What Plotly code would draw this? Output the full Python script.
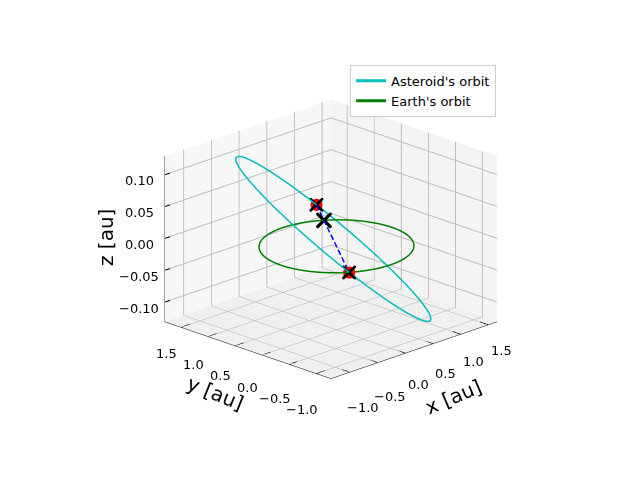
import numpy as np
import plotly.graph_objects as go

# ---- data ----
# asteroid orbital elements: a [au], e, i [deg], node [deg], arg. perihelion [deg]
ast_elements = [1.30, 0.231, 5.8, 55.0, 178.6]
earth_radius = [1.0]
x_ticks = [-1.0, -0.5, 0.0, 0.5, 1.0, 1.5]
y_ticks = [-1.0, -0.5, 0.0, 0.5, 1.0, 1.5]
z_ticks = [-0.10, -0.05, 0.0, 0.05, 0.10]
x_range = [-1.34, 1.66]
y_range = [-1.27, 1.80]
z_range = [-0.131, 0.129]


def fmt(v, nd):
    s = f"{v:.{nd}f}"
    return s.replace("-", "\u2212")


a, e, inc, node, peri = ast_elements
inc, node, peri = np.radians([inc, node, peri])
p = a * (1 - e ** 2)


def orbit_xyz(nu):
    r = p / (1 + e * np.cos(nu))
    u = nu + peri
    x = r * (np.cos(node) * np.cos(u) - np.sin(node) * np.sin(u) * np.cos(inc))
    y = r * (np.sin(node) * np.cos(u) + np.cos(node) * np.sin(u) * np.cos(inc))
    z = r * np.sin(u) * np.sin(inc)
    return x, y, z


nu = np.linspace(0, 2 * np.pi, 400)
ax_, ay_, az_ = orbit_xyz(nu)

th = np.linspace(0, 2 * np.pi, 400)
R = earth_radius[0]
ex, ey, ez = R * np.cos(th), R * np.sin(th), np.zeros_like(th)

# nodes of the asteroid orbit
nodes_nu = np.array([-peri, np.pi - peri])
nx, ny, nz = orbit_xyz(nodes_nu)
# earth on the line of nodes (ascending side)
mx, my, mz = [R * np.cos(node)], [R * np.sin(node)], [0.0]

# dashed segment pattern along the line of nodes (blue dashed line)
n_dash, dash_frac = 9, 0.68
dx, dy, dz = [], [], []
for k in range(n_dash):
    t0 = k / n_dash
    t1 = t0 + dash_frac / n_dash
    for t in (t0, t1):
        dx.append(nx[0] + t * (nx[1] - nx[0]))
        dy.append(ny[0] + t * (ny[1] - ny[0]))
        dz.append(nz[0] + t * (nz[1] - nz[0]))
    dx.append(None); dy.append(None); dz.append(None)

xspan = x_range[1] - x_range[0]
yspan = y_range[1] - y_range[0]
zspan = z_range[1] - z_range[0]

# short tick marks on the box edges (inside the box, so they are not clipped)
tl_xy = 0.05 * xspan
tkx, tky, tkz = [], [], []
for v in x_ticks:
    tkx += [v, v, None]; tky += [y_range[0], y_range[0] + tl_xy, None]
    tkz += [z_range[0], z_range[0], None]
for v in y_ticks:
    tkx += [x_range[0], x_range[0] + tl_xy, None]; tky += [v, v, None]
    tkz += [z_range[0], z_range[0], None]
for v in z_ticks:
    tkx += [x_range[0] + 1e-3 * xspan, x_range[0] + tl_xy * 0.6, None]
    tky += [y_range[1] - 1e-3 * yspan, y_range[1] - 1e-3 * yspan, None]
    tkz += [v, v, None]

fig = go.Figure()
fig.add_trace(go.Scatter3d(x=ax_, y=ay_, z=az_, mode="lines",
                           line=dict(color="#00bfbf", width=3), name="Asteroid's orbit"))
fig.add_trace(go.Scatter3d(x=ex, y=ey, z=ez, mode="lines",
                           line=dict(color="#008000", width=3), name="Earth's orbit"))
fig.add_trace(go.Scatter3d(x=dx, y=dy, z=dz, mode="lines", connectgaps=False,
                           line=dict(color="#0000ff", width=3), showlegend=False))
fig.add_trace(go.Scatter3d(x=nx, y=ny, z=nz, mode="markers",
                           marker=dict(color="#ff0000", size=7, symbol="circle"), showlegend=False))
fig.add_trace(go.Scatter3d(x=nx, y=ny, z=nz, mode="markers",
                           marker=dict(color="black", size=3.2, symbol="x"), showlegend=False))
fig.add_trace(go.Scatter3d(x=mx, y=my, z=mz, mode="markers",
                           marker=dict(color="black", size=3.6, symbol="x"), showlegend=False))
fig.add_trace(go.Scatter3d(x=tkx, y=tky, z=tkz, mode="lines", connectgaps=False,
                           line=dict(color="black", width=2), showlegend=False,
                           hoverinfo="skip"))

# tick labels as scene annotations (pixel offsets like the reference)
tick_font = dict(size=13, color="black", family="DejaVu Sans")
scene_ann = []
for v in x_ticks:
    t = (x_range[1] - v) / xspan
    scene_ann.append(dict(x=v, y=y_range[0] + 1e-3 * yspan, z=z_range[0] + 1e-3 * zspan,
                          text=fmt(v, 1), showarrow=False,
                          xshift=13, yshift=-25 - 12 * t, font=tick_font,
                          xanchor="center", yanchor="middle"))
for v in y_ticks:
    t = (y_range[1] - v) / yspan
    scene_ann.append(dict(x=x_range[0] + 1e-3 * xspan, y=v, z=z_range[0] + 1e-3 * zspan,
                          text=fmt(v, 1), showarrow=False,
                          xshift=-15, yshift=-25 - 12 * t, font=tick_font,
                          xanchor="center", yanchor="middle"))
for v in z_ticks:
    scene_ann.append(dict(x=x_range[0] + 1e-3 * xspan, y=y_range[1] - 1e-3 * yspan, z=v,
                          text=fmt(v, 2), showarrow=False,
                          xshift=-26, yshift=-6, font=tick_font,
                          xanchor="center", yanchor="middle"))

axis_common = dict(showspikes=False, gridcolor="#bdbdbd", showline=True, linecolor="black",
                   ticks="", showticklabels=False, zeroline=False,
                   showbackground=True, title=dict(text=""))

elev, azim, dist = np.radians(20.0), np.radians(-135.0), 2.2
eye = dict(x=dist * np.cos(elev) * np.cos(azim), y=dist * np.cos(elev) * np.sin(azim),
           z=dist * np.sin(elev))

title_font = dict(size=20, color="black", family="DejaVu Sans")
fig.update_layout(
    width=640, height=480, margin=dict(l=0, r=0, t=0, b=0),
    paper_bgcolor="white",
    font=dict(family="DejaVu Sans", color="black"),
    legend=dict(x=0.547, y=0.865, xanchor="left", yanchor="top",
                bordercolor="#cccccc", borderwidth=1, bgcolor="white",
                font=dict(size=13)),
    scene=dict(
        domain=dict(x=[0.0345, 1.0], y=[0.012, 0.992]),
        xaxis=dict(range=x_range, tickvals=x_ticks, backgroundcolor="#f4f4f4", **axis_common),
        yaxis=dict(range=y_range, tickvals=y_ticks, backgroundcolor="#f7f7f7", **axis_common),
        zaxis=dict(range=z_range, tickvals=z_ticks, backgroundcolor="#f0f0f0", **axis_common),
        aspectmode="manual", aspectratio=dict(x=1, y=1, z=0.75),
        camera=dict(eye=eye, center=dict(x=0, y=0, z=0), up=dict(x=0, y=0, z=1),
                    projection=dict(type="orthographic")),
        annotations=scene_ann,
    ),
    annotations=[
        dict(text="x [au]", x=453 / 640, y=1 - 397 / 480, xref="paper", yref="paper",
             xanchor="center", yanchor="middle",
             showarrow=False, textangle=-23, font=title_font),
        dict(text="y [au]", x=215 / 640, y=1 - 393 / 480, xref="paper", yref="paper",
             xanchor="center", yanchor="middle",
             showarrow=False, textangle=22, font=title_font),
        dict(text="z [au]", x=106 / 640, y=1 - 238 / 480, xref="paper", yref="paper",
             xanchor="center", yanchor="middle",
             showarrow=False, textangle=-90, font=title_font),
    ],
)
fig.write_html("out.html", config={"displayModeBar": False})
